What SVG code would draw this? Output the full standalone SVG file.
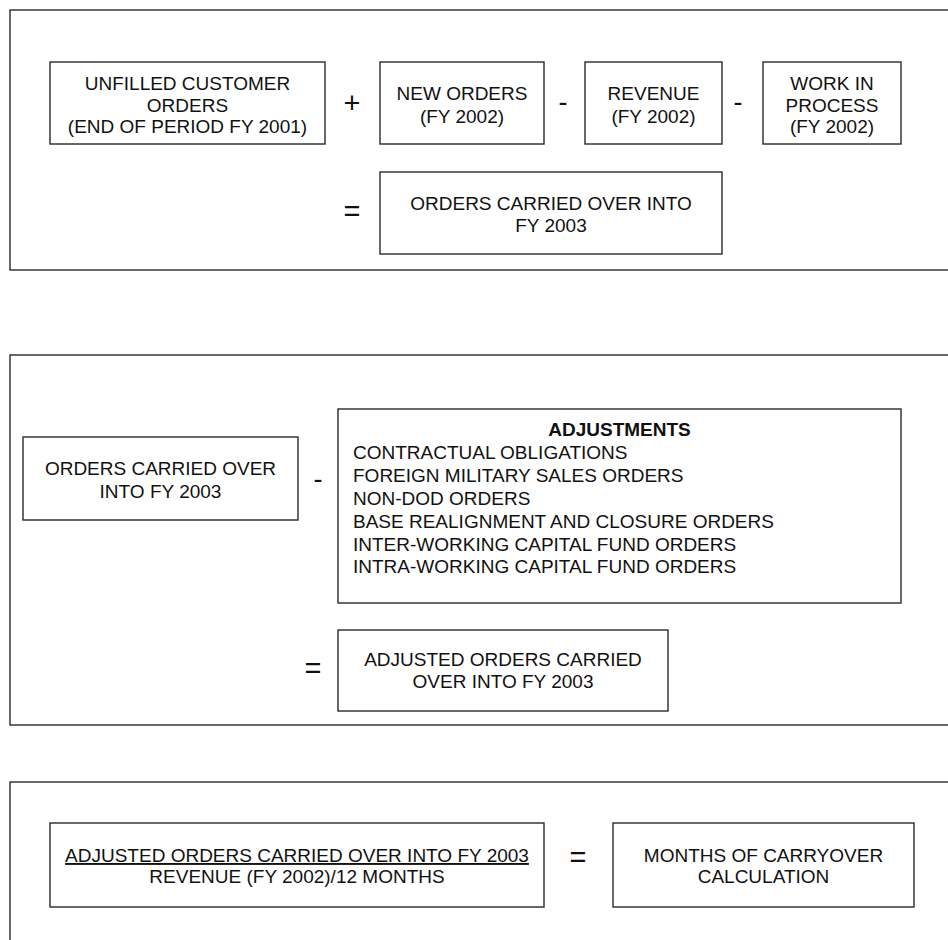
<svg xmlns="http://www.w3.org/2000/svg" width="948" height="940" viewBox="0 0 948 940">
<style>
.panel{fill:none;stroke:#2a2a2a;stroke-width:1.4}
.box{fill:#fff;stroke:#2a2a2a;stroke-width:1.4}
text{font-family:"Liberation Sans",Arial,Helvetica,sans-serif;font-size:19px;fill:#111}
.c{text-anchor:middle}
.b{font-weight:bold}
.op{font-size:29px;text-anchor:middle}
.dash{font-size:27px;text-anchor:middle}
.u{text-decoration:underline}
</style>
<rect width="948" height="940" fill="#fff"/>
<g id="panel1">
<rect class="panel" x="10" y="10" width="960" height="260"/>
<g id="unfilled"><rect class="box" x="50" y="62" width="275" height="82"/>
<text class="c" x="187.5" y="90">UNFILLED CUSTOMER</text>
<text class="c" x="187.5" y="111.5">ORDERS</text>
<text class="c" x="187.5" y="133">(END OF PERIOD FY 2001)</text></g>
<g id="newOrders"><rect class="box" x="380" y="62" width="164" height="82"/>
<text class="c" x="462" y="100">NEW ORDERS</text>
<text class="c" x="462" y="122.5">(FY 2002)</text></g>
<g id="revenue"><rect class="box" x="585" y="62" width="137" height="82"/>
<text class="c" x="653.5" y="100">REVENUE</text>
<text class="c" x="653.5" y="122.5">(FY 2002)</text></g>
<g id="wip"><rect class="box" x="763" y="62" width="138" height="82"/>
<text class="c" x="832" y="90">WORK IN</text>
<text class="c" x="832" y="111.5">PROCESS</text>
<text class="c" x="832" y="133">(FY 2002)</text></g>
<g id="carried"><rect class="box" x="380" y="172" width="342" height="82"/>
<text class="c" x="551" y="210">ORDERS CARRIED OVER INTO</text>
<text class="c" x="551" y="232">FY 2003</text></g>
<g id="ops1">
<text class="op" x="352" y="113">+</text>
<text class="dash" x="563" y="111">-</text>
<text class="dash" x="738" y="111">-</text>
<text class="op" x="352" y="221">=</text>
</g>
</g>
<g id="panel2">
<rect class="panel" x="10" y="355" width="960" height="370"/>
<g id="carried2"><rect class="box" x="23" y="437" width="275" height="83"/>
<text class="c" x="160.5" y="475">ORDERS CARRIED OVER</text>
<text class="c" x="160.5" y="498">INTO FY 2003</text></g>
<g id="adjustments"><rect class="box" x="338" y="409" width="563" height="194"/>
<text class="c b" x="619.5" y="436">ADJUSTMENTS</text>
<text x="353" y="459">CONTRACTUAL OBLIGATIONS</text>
<text x="353" y="482">FOREIGN MILITARY SALES ORDERS</text>
<text x="353" y="505">NON-DOD ORDERS</text>
<text x="353" y="528">BASE REALIGNMENT AND CLOSURE ORDERS</text>
<text x="353" y="551">INTER-WORKING CAPITAL FUND ORDERS</text>
<text x="353" y="573">INTRA-WORKING CAPITAL FUND ORDERS</text></g>
<g id="adjusted"><rect class="box" x="338" y="630" width="330" height="81"/>
<text class="c" x="503" y="666">ADJUSTED ORDERS CARRIED</text>
<text class="c" x="503" y="688">OVER INTO FY 2003</text></g>
<g id="ops2">
<text class="dash" x="318" y="488">-</text>
<text class="op" x="313" y="678">=</text>
</g>
</g>
<g id="panel3">
<rect class="panel" x="10" y="782" width="960" height="200"/>
<g id="formula"><rect class="box" x="50" y="823" width="494" height="84"/>
<text class="c u" x="297" y="862">ADJUSTED ORDERS CARRIED OVER INTO FY 2003</text>
<text class="c" x="297" y="883">REVENUE (FY 2002)/12 MONTHS</text></g>
<g id="months"><rect class="box" x="613" y="823" width="301" height="84"/>
<text class="c" x="763.5" y="862">MONTHS OF CARRYOVER</text>
<text class="c" x="763.5" y="883">CALCULATION</text></g>
<g id="ops3">
<text class="op" x="578" y="867">=</text>
</g>
</g>
<g id="connectors"></g>
</svg>
